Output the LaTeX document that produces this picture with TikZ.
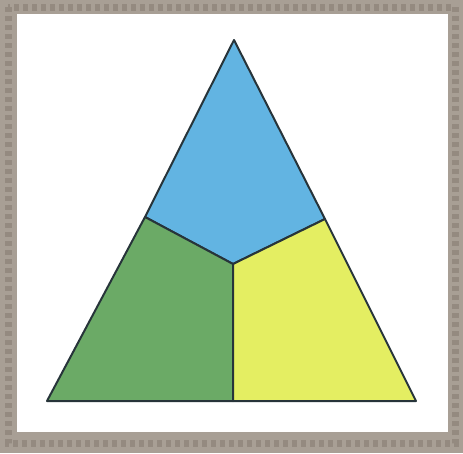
\documentclass[tikz,border=0pt]{standalone}
\definecolor{frameC}{HTML}{A89F95}
\definecolor{frameD}{HTML}{948A80}
\definecolor{blueC}{HTML}{62B4E2}
\definecolor{greenC}{HTML}{6BAA66}
\definecolor{yellowC}{HTML}{E4EE62}
\definecolor{edgeC}{HTML}{27343A}
\begin{document}
\begin{tikzpicture}[x=1pt,y=-1pt,
  region/.style={draw=edgeC,line width=2pt,line join=round}]
\useasboundingbox (0,0) rectangle (463,453);
% frame
\fill[frameC] (0,0) rectangle (463,453);
\draw[frameD,line width=7pt,dash pattern=on 5pt off 4pt] (8,7) rectangle (455,443);
\fill[white] (17,14) rectangle (448,432);
% points
\coordinate (A) at (234,40);
\coordinate (L) at (145,217);
\coordinate (R) at (325,219);
\coordinate (C) at (233,264);
\coordinate (BL) at (47,401);
\coordinate (BM) at (233,401);
\coordinate (BR) at (416,401);
% regions
\filldraw[region,fill=blueC] (A) -- (R) -- (C) -- (L) -- cycle;
\filldraw[region,fill=greenC] (L) -- (C) -- (BM) -- (BL) -- cycle;
\filldraw[region,fill=yellowC] (R) -- (BR) -- (BM) -- (C) -- cycle;
\end{tikzpicture}
\end{document}
